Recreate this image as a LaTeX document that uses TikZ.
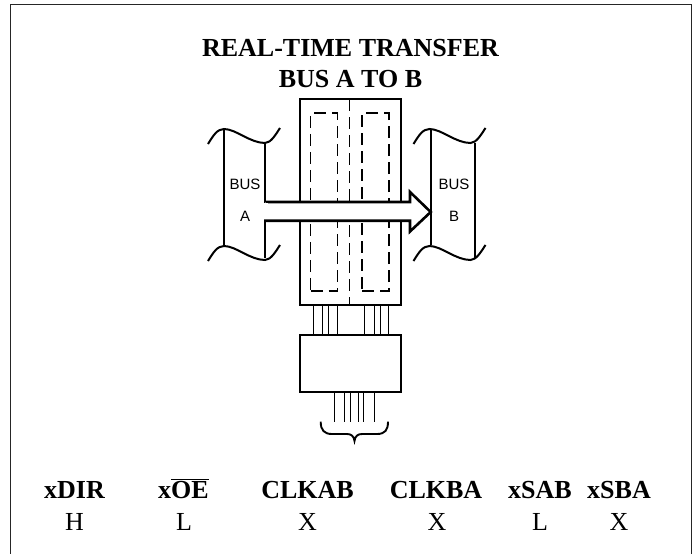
\documentclass[tikz,border=0pt]{standalone}
\usepackage{fontspec}
\setmainfont{Liberation Serif}
\newfontfamily\busfont{Liberation Sans}
\tikzset{
  heavy/.style={line width=2pt,black},
  thin line/.style={line width=1pt,black},
  hidden/.style={line width=1.2pt,black,dash pattern=on 12pt off 6pt},
  title/.style={font=\fontsize{26}{28}\selectfont\bfseries,inner sep=0pt},
  head/.style={font=\fontsize{26}{28}\selectfont\bfseries,inner sep=0pt,anchor=base},
  val/.style={font=\fontsize{26}{28}\selectfont,inner sep=0pt,anchor=base},
  buslabel/.style={font=\busfont\fontsize{15}{17}\selectfont,inner sep=0pt,anchor=base},
}
\newcommand{\wavetop}[2]{% x offset, y offset
  (#1+208,#2+144) .. controls (#1+213,#2+136) and (#1+217,#2+129) .. (#1+224,#2+129)
  .. controls (#1+236,#2+129) and (#1+250,#2+143) .. (#1+265,#2+143)
  .. controls (#1+271,#2+143) and (#1+276,#2+134) .. (#1+280,#2+128)}
\begin{document}
\begin{tikzpicture}[x=1pt,y=-1pt]
\useasboundingbox (0,0) rectangle (696,554);
\draw[line width=1.5pt,black!85] (10.5,559) -- (10.5,4.7) -- (691.7,4.7) -- (691.7,559);
% register block
\node[draw,heavy,minimum width=101pt,minimum height=206pt,inner sep=0pt] (reg) at (350.5,202) {};
\node[draw,hidden,minimum width=26.6pt,minimum height=178pt,inner sep=0pt] (ffa) at (324,202) {};
\node[draw,hidden,minimum width=27pt,minimum height=178pt,inner sep=0pt] (ffb) at (375.5,202) {};
\draw[hidden] (349.5,99) -- (349.5,305);
% control block
\node[draw,heavy,minimum width=101pt,minimum height=57pt,inner sep=0pt] (ctl) at (350.5,363.5) {};
\foreach \x in {313,322.7,328.3,337.3,364.7,374,380,388.7}
  \draw[thin line] (\x,305) -- (\x,335);
\foreach \x in {334,344.3,350,358.3,363.7,374}
  \draw[thin line] (\x,392) -- (\x,421.7);
% brace
\draw[line width=1.9pt] (320.7,421.7) .. controls (320.7,430) and (324,434) .. (332,434)
  -- (347,434) .. controls (351,434) and (354,436) .. (354.5,441)
  .. controls (355,436) and (358,434) .. (362,434)
  -- (377,434) .. controls (385,434) and (388,430) .. (388,421.7);
% buses
\draw[heavy] (224,129) -- (224,245);
\draw[heavy] (265,143) -- (265,258);
\draw[heavy] (430.7,129) -- (430.7,245);
\draw[heavy] (475,143) -- (475,258);
\draw[heavy] \wavetop{0}{0};
\draw[heavy] \wavetop{0}{117};
\draw[heavy] \wavetop{205.5}{0};
\draw[heavy] \wavetop{205.5}{117};
% arrow
\filldraw[fill=white,draw=black,line width=2.6pt,line join=miter]
  (265.5,202) -- (410,202) -- (410,192) -- (430.7,212) -- (410,231.5) -- (410,220.7) -- (264,220.7);
\fill[white] (263,203.3) rectangle (268,219.4);
% labels
\node[buslabel] (bal) at (245,189.5) {BUS};
\node[buslabel] (aal) at (245,221) {A};
\node[buslabel] (bbl) at (454,189.5) {BUS};
\node[buslabel] (bbb) at (454,221) {B};
\node[title] (t1) at (350.5,48) {REAL-TIME TRANSFER};
\node[title] (t2) at (350.5,79) {BUS A TO B};
\node[head] (h1) at (74.5,498) {xDIR};
\node[head] (h2) at (183.5,498) {x$\overline{\mbox{OE}}$};
\node[head] (h3) at (307.5,498) {CLKAB};
\node[head] (h4) at (436,498) {CLKBA};
\node[head] (h5) at (540,498) {xSAB};
\node[head] (h6) at (619,498) {xSBA};
\node[val] (v1) at (74.5,530) {H};
\node[val] (v2) at (184,530) {L};
\node[val] (v3) at (307.5,530) {X};
\node[val] (v4) at (437,530) {X};
\node[val] (v5) at (540,530) {L};
\node[val] (v6) at (619,530) {X};
\end{tikzpicture}
\end{document}
